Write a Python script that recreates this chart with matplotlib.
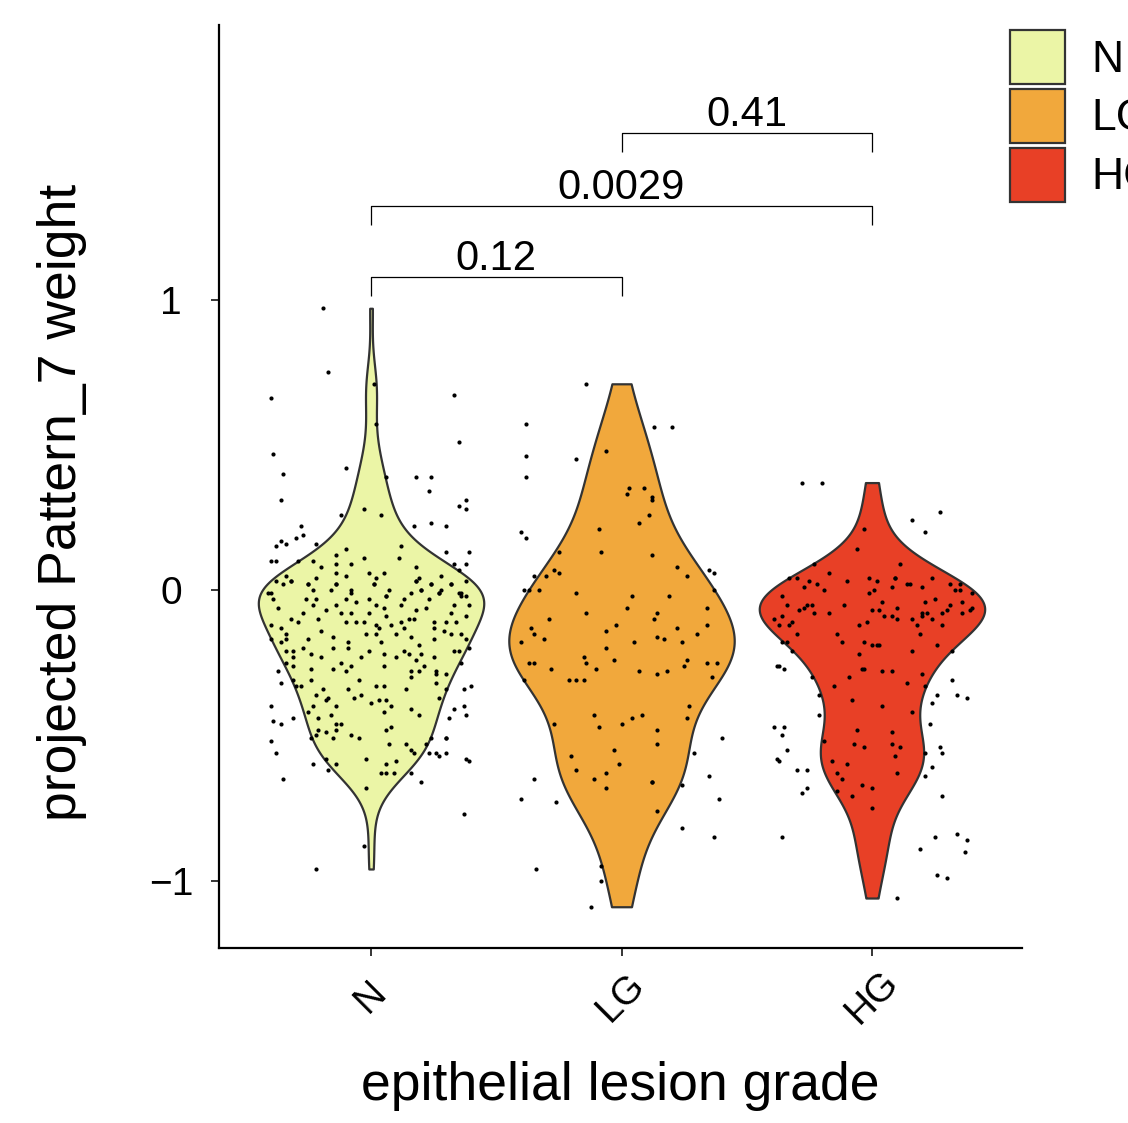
import numpy as np
import matplotlib
matplotlib.use("Agg")
import matplotlib.pyplot as plt
from matplotlib.patches import Patch

plt.rcParams["font.family"] = ["Liberation Sans", "DejaVu Sans"]

# ---------- DATA ----------
groups = ["N", "LG", "HG"]
colors = ["#EBF5A6", "#F1A83C", "#E84026"]

# jitter offset from the group centre, value
n_dx = [-0.19, -0.17, -0.40, 0.01, 0.02, 0.33, 0.35, -0.39, -0.35, -0.36, -0.10, 0.06, 0.18, 0.24, 0.23,
        0.35, 0.38, 0.38, -0.12, -0.03, 0.04, 0.17, 0.24, 0.30, -0.28, -0.27, -0.30, -0.36, -0.34, -0.38,
        -0.22, -0.40, -0.38, -0.29, -0.23, -0.20, -0.14, -0.14, -0.10, -0.08, -0.03, 0.12, 0.11, 0.18, 0.30,
        0.39, 0.33, 0.38, -0.01, 0.05, -0.14, -0.10, -0.22, -0.34, -0.32, -0.38, -0.25, -0.14, 0.01, 0.02,
        0.19, 0.18, 0.28, 0.24, 0.35, 0.32, 0.38, -0.41, -0.08, 0.06, 0.16, 0.20, 0.27, 0.36,
        -0.35, -0.32, -0.25, -0.23, -0.16, -0.14, -0.08, 0.01, 0.07, 0.18, 0.20, 0.24, 0.27, 0.32, 0.35, 0.38,
        -0.40, -0.39, -0.37, -0.26, -0.22, -0.23, -0.14, -0.10, -0.06, -0.01, 0.02, 0.06, 0.05, 0.12, 0.13,
        0.18, 0.23, 0.22, 0.28, 0.33, 0.39, 0.36, -0.27, -0.18, -0.12, -0.08, -0.01, 0.06, -0.32, -0.29,
        -0.21, -0.10, -0.06, -0.03, 0.02, 0.08, 0.12, 0.15, 0.17, 0.25, 0.30, 0.34, 0.32, 0.38, -0.40, -0.36,
        -0.34, -0.40, -0.36, -0.34, -0.25, -0.20, -0.15, -0.09, -0.02, 0.02, 0.03, 0.04, 0.10, 0.13, 0.16,
        0.19, 0.25, 0.25, 0.29, 0.32, 0.36, 0.38, -0.34, -0.31, -0.27, -0.24, -0.20, -0.15, -0.09, -0.04,
        -0.01, 0.05, 0.10, 0.13, 0.15, 0.18, 0.20, 0.25, 0.33, 0.35, 0.39, -0.34, -0.31, -0.31, -0.12, -0.15,
        -0.10, -0.08, 0.05, 0.16, 0.16, 0.19, 0.21, 0.26, 0.26, 0.36, -0.24, -0.37, -0.36, -0.31, -0.30,
        -0.28, -0.24, -0.05, 0.02, 0.05, 0.14, 0.26, 0.30, 0.30, 0.37, 0.40, -0.19, -0.09, -0.04, -0.07,
        -0.22, -0.17, -0.18, 0.00, 0.03, 0.06, 0.08, 0.27, -0.40, -0.23, -0.14, -0.25, 0.05, 0.16, 0.33,
        0.37, 0.38, 0.19, 0.31, -0.39, -0.36, -0.31, -0.21, -0.16, -0.14, -0.12, -0.21, 0.06, 0.08, -0.14,
        -0.18, -0.22, -0.24, -0.15, -0.08, -0.05, -0.40, -0.38, 0.07, 0.14, 0.16, 0.17, 0.22, 0.24, 0.30,
        0.30, 0.23, 0.26, 0.27, 0.30, 0.38, 0.39, -0.18, -0.23, -0.14, -0.02, 0.10, 0.06, -0.17, 0.04, 0.06,
        0.09, 0.16, -0.35, 0.20, -0.02, 0.37, -0.03, -0.22]
n_val = [0.97, 0.75, 0.66, 0.71, 0.57, 0.67, 0.51, 0.47, 0.40, 0.31, 0.42, 0.39, 0.39, 0.39, 0.34,
         0.29, 0.31, 0.28, 0.26, 0.28, 0.26, 0.22, 0.23, 0.22, 0.22, 0.19, 0.18, 0.17, 0.16, 0.15,
         0.16, 0.10, 0.10, 0.10, 0.10, 0.08, 0.12, 0.09, 0.14, 0.09, 0.11, 0.15, 0.11, 0.08, 0.13,
         0.13, 0.09, 0.09, 0.06, 0.06, 0.06, 0.05, 0.04, 0.05, 0.03, 0.03, 0.02, 0.02, 0.02, 0.04,
         0.04, 0.03, 0.05, 0.02, 0.07, 0.02, 0.03, -0.01, 0.00, -0.02, -0.01, 0.00, -0.01, -0.01,
         0.02, 0.03, 0.02, 0.00, 0.00, 0.02, -0.01, 0.02, 0.00, 0.03, 0.00, 0.02, -0.01, 0.02, -0.01, -0.02,
         -0.01, -0.03, -0.06, -0.03, -0.03, -0.05, -0.05, -0.03, -0.04, -0.03, -0.05, -0.02, -0.06, -0.05, -0.03,
         -0.07, -0.03, -0.06, 0.00, -0.05, -0.05, -0.02, -0.08, -0.07, -0.08, -0.08, -0.08, -0.09, -0.10, -0.11,
         -0.10, -0.11, -0.11, -0.11, -0.12, -0.12, -0.11, -0.10, -0.10, -0.11, -0.11, -0.11, -0.08, -0.09, -0.12, -0.13,
         -0.15, -0.17, -0.18, -0.17, -0.17, -0.14, -0.16, -0.18, -0.15, -0.15, -0.13, -0.18, -0.15, -0.13, -0.16,
         -0.19, -0.13, -0.17, -0.14, -0.15, -0.15, -0.17, -0.21, -0.21, -0.20, -0.22, -0.23, -0.20, -0.20, -0.23,
         -0.21, -0.22, -0.23, -0.21, -0.22, -0.24, -0.22, -0.23, -0.21, -0.21, -0.20, -0.25, -0.23, -0.26, -0.25, -0.27,
         -0.28, -0.26, -0.26, -0.28, -0.30, -0.28, -0.26, -0.28, -0.29, -0.25, -0.27, -0.28, -0.32, -0.31, -0.33,
         -0.33, -0.31, -0.31, -0.33, -0.33, -0.34, -0.32, -0.29, -0.34, -0.34, -0.33, -0.34, -0.34, -0.36, -0.37,
         -0.36, -0.37, -0.38, -0.39, -0.38, -0.38, -0.40, -0.37, -0.40, -0.40, -0.40, -0.42, -0.42, -0.41, -0.41,
         -0.40, -0.43, -0.43, -0.44, -0.45, -0.46, -0.44, -0.44, -0.43, -0.46, -0.46, -0.48, -0.48, -0.47, -0.48,
         -0.49, -0.50, -0.51, -0.51, -0.50, -0.51, -0.52, -0.56, -0.53, -0.53, -0.55, -0.56, -0.53, -0.51, -0.51,
         -0.51, -0.56, -0.56, -0.57, -0.56, -0.58, -0.59, -0.58, -0.60, -0.60, -0.58, -0.59, -0.60, -0.62, -0.63, -0.63,
         -0.63, -0.63, -0.65, -0.66, -0.68, -0.77, -0.88, -0.96]

lg_dx = [-0.14, -0.38, 0.13, 0.20, -0.38, -0.06, -0.18, -0.38, 0.03, 0.09, 0.02, 0.12, 0.12, 0.11, 0.07,
         -0.40, -0.38, -0.09, -0.25, -0.08, 0.12, 0.22, 0.26, 0.35, 0.37, -0.35, -0.27, -0.25, -0.30, -0.39,
         -0.37, -0.33, -0.18, 0.04, 0.19, 0.37, 0.02, 0.34, -0.14, 0.14, -0.29, 0.13,
         -0.36, -0.35, -0.40, -0.31, -0.06, -0.02, 0.05, 0.14, 0.17, 0.22, 0.24, 0.30, 0.34, -0.06, -0.15,
         -0.14, -0.03, -0.37, -0.35, -0.28, -0.10, -0.21, -0.18, -0.15, 0.07, 0.14, 0.18, 0.25, 0.26, 0.34,
         0.38, 0.36, -0.39, 0.27, 0.26, -0.11, -0.09, 0.00, 0.04, 0.08, -0.27, 0.14, 0.14, 0.40, 0.29, -0.20,
         -0.03, -0.01, -0.18, -0.06, -0.11, -0.06, 0.12, 0.12, -0.35, 0.35, 0.24, -0.40, -0.26, 0.39, 0.14,
         0.24, 0.37, -0.34, -0.08, -0.08, -0.12]
lg_val = [0.71, 0.57, 0.56, 0.56, 0.46, 0.48, 0.45, 0.39, 0.35, 0.35, 0.33, 0.32, 0.31, 0.26, 0.23,
          0.20, 0.18, 0.21, 0.13, 0.13, 0.12, 0.08, 0.05, 0.07, 0.06, 0.05, 0.07, 0.06, 0.05, 0.00,
          0.00, 0.00, -0.01, -0.02, -0.02, 0.00, -0.06, -0.06, -0.08, -0.08, -0.10, -0.10,
          -0.13, -0.15, -0.18, -0.17, -0.14, -0.12, -0.18, -0.16, -0.17, -0.13, -0.18, -0.15, -0.12, -0.20, -0.23,
          -0.25, -0.24, -0.25, -0.25, -0.27, -0.27, -0.31, -0.31, -0.31, -0.28, -0.29, -0.28, -0.26, -0.24, -0.25,
          -0.25, -0.30, -0.31, -0.40, -0.44, -0.43, -0.47, -0.46, -0.44, -0.43, -0.46, -0.48, -0.53, -0.51, -0.56, -0.57,
          -0.55, -0.60, -0.62, -0.63, -0.65, -0.68, -0.66, -0.66, -0.65, -0.64, -0.67, -0.72, -0.73, -0.72, -0.76,
          -0.82, -0.85, -0.96, -0.95, -1.00, -1.09]

hg_dx = [-0.28, -0.20, 0.27, 0.16, 0.21, -0.03, -0.06, -0.23, 0.11, -0.17, -0.33, -0.30, -0.25, -0.22, -0.19,
         -0.27, -0.10, -0.01, 0.02, 0.09, 0.09, 0.08, 0.14, 0.15, 0.20, 0.24, 0.31, 0.35, 0.33, 0.35, 0.40,
         -0.01, 0.01, -0.36, -0.34, -0.26, -0.24, -0.27, -0.29, -0.23, -0.17, -0.11, 0.04, 0.00, 0.03, 0.10,
         0.21, 0.25, 0.31, 0.36, 0.40, 0.39, 0.30, 0.28, 0.20, 0.22, 0.20, 0.36, -0.36, -0.39, -0.37, -0.33,
         -0.32, -0.30, -0.14, -0.05, -0.02, 0.05, 0.08, 0.10, 0.16, 0.18, 0.19, 0.24, 0.28,
         -0.36, -0.34, -0.32, -0.12, -0.03, 0.00, 0.02, 0.03, 0.16, 0.26, 0.32, -0.05, -0.38, -0.37, -0.35,
         -0.24, -0.04, -0.03, 0.04, 0.08, 0.20, -0.09, 0.14, 0.32, -0.15, 0.21, 0.26, 0.34, 0.38, -0.21,
         -0.08, 0.24, 0.04, 0.16, -0.21, 0.23, -0.39, -0.35, -0.36, -0.06, 0.08, -0.19, -0.07, -0.03, 0.08,
         0.11, 0.09, -0.34, 0.27, 0.28, 0.21, -0.38, -0.37, -0.16, -0.10, 0.24, -0.30, -0.26, -0.14, 0.10,
         0.21, -0.12, -0.28, -0.26, -0.14, -0.04, 0.00, -0.08, 0.28, 0.00, -0.36, 0.25, 0.34, 0.38, 0.37,
         0.19, 0.26, 0.30, 0.10]
hg_val = [0.37, 0.37, 0.27, 0.24, 0.20, 0.21, 0.14, 0.09, 0.09, 0.06, 0.04, 0.04, 0.03, 0.02, 0.00,
          0.01, 0.03, 0.04, 0.03, 0.04, 0.04, 0.01, 0.02, 0.02, 0.01, 0.04, 0.02, 0.02, 0.00, 0.00, -0.01,
          -0.01, 0.00, -0.02, -0.05, -0.05, -0.05, -0.06, -0.07, -0.08, -0.08, -0.05, -0.04, -0.07, -0.07, -0.06,
          -0.04, -0.03, -0.05, -0.04, -0.06, -0.07, -0.07, -0.08, -0.08, -0.08, -0.09, -0.08, -0.09, -0.10, -0.12, -0.12,
          -0.11, -0.15, -0.15, -0.12, -0.11, -0.09, -0.09, -0.10, -0.10, -0.12, -0.15, -0.10, -0.12,
          -0.18, -0.18, -0.21, -0.18, -0.18, -0.19, -0.19, -0.19, -0.21, -0.19, -0.21, -0.22, -0.26, -0.26, -0.27,
          -0.30, -0.27, -0.27, -0.28, -0.28, -0.29, -0.30, -0.32, -0.31, -0.33, -0.33, -0.36, -0.36, -0.37, -0.36,
          -0.38, -0.39, -0.40, -0.42, -0.43, -0.46, -0.47, -0.47, -0.50, -0.48, -0.49, -0.52, -0.53, -0.54, -0.53,
          -0.54, -0.57, -0.55, -0.54, -0.56, -0.56, -0.58, -0.59, -0.59, -0.60, -0.61, -0.62, -0.62, -0.63, -0.63,
          -0.64, -0.65, -0.70, -0.68, -0.69, -0.67, -0.68, -0.71, -0.71, -0.75, -0.85, -0.85, -0.84, -0.86, -0.90,
          -0.89, -0.98, -0.99, -1.06]

comparisons = [("N", "LG", "0.12", 1.077), ("N", "HG", "0.0029", 1.322), ("LG", "HG", "0.41", 1.573)]


def nrd0(kde):
    # R's bw.nrd0, expressed as a factor of the sample sd
    d = np.asarray(kde.dataset).ravel()
    sd = d.std(ddof=1)
    iqr = np.subtract(*np.percentile(d, [75, 25]))
    lo = min(sd, iqr / 1.34)
    return 0.9 * lo * len(d) ** -0.2 / sd


# ---------- FIGURE ----------
fig = plt.figure(figsize=(11.28, 11.23), dpi=100)
ax = fig.add_axes([219 / 1128, 1 - 948 / 1123, (1022 - 219) / 1128, (948 - 25) / 1123])

values = [n_val, lg_val, hg_val]
offsets = [n_dx, lg_dx, hg_dx]
for i, (vals, col) in enumerate(zip(values, colors)):
    parts = ax.violinplot([vals], positions=[i], widths=0.9, showextrema=False,
                          bw_method=nrd0, points=300)
    for body in parts["bodies"]:
        body.set_facecolor(col)
        body.set_edgecolor("#333333")
        body.set_linewidth(1.6)
        body.set_alpha(1)
        body.set_zorder(2)

for i, (dx, vals) in enumerate(zip(offsets, values)):
    ax.scatter(i + np.asarray(dx), vals, s=9, color="black", linewidths=0, zorder=3)

# ---------- BRACKETS ----------
tip = 0.065
for a, b, label, yb in comparisons:
    xa, xb = groups.index(a), groups.index(b)
    ax.plot([xa, xa, xb, xb], [yb - tip, yb, yb, yb - tip], color="black", lw=0.9,
            solid_capstyle="butt", zorder=4)
    ax.text((xa + xb) / 2, yb + 0.024, label, ha="center", va="baseline", fontsize=30)

# ---------- AXES ----------
ax.set_xlim(-0.607, 2.599)
ax.set_ylim(-1.232, 1.945)
ax.set_yticks([-1, 0, 1])
ax.set_yticklabels(["\u22121", "0", "1"], ha="center")
ax.set_xticks(range(len(groups)))
ax.set_xticklabels(groups, rotation=45, ha="center", va="center")
ax.tick_params(axis="both", labelsize=28, length=5.5, width=1.1, color="black")
ax.tick_params(axis="y", pad=29)
ax.tick_params(axis="x", pad=30)
for side in ["top", "right"]:
    ax.spines[side].set_visible(False)
for side in ["left", "bottom"]:
    ax.spines[side].set_linewidth(1.6)
ax.set_xlabel("epithelial lesion grade", fontsize=38.5, va="top")
ax.xaxis.set_label_coords(0.5, -0.122)
ax.set_ylabel("projected Pattern_7 weight", fontsize=38.5, va="center")
ax.yaxis.set_label_coords(-0.1955, 0.483)

# ---------- LEGEND ----------
handles = [Patch(facecolor=c, edgecolor="#333333", linewidth=1.6) for c in colors]
fig.legend(handles, groups, loc="upper left", bbox_to_anchor=(1010 / 1128, 1 - 30 / 1123),
           frameon=False, fontsize=32, borderpad=0, borderaxespad=0,
           handlelength=1.24, handleheight=1.49, handletextpad=0.6, labelspacing=0.11)

fig.savefig("out.png", dpi=100)
